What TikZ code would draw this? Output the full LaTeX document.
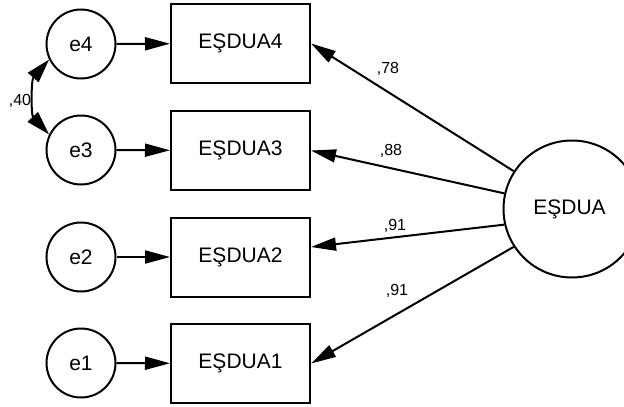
\documentclass[tikz,border=0pt]{standalone}
\usepackage{fontspec}
\setmainfont{Liberation Sans}
\usetikzlibrary{arrows.meta,calc}
\begin{document}
\begin{tikzpicture}[x=1pt,y=-1pt,
  errc/.style={circle,draw,line width=2pt,minimum size=69pt,inner sep=0pt,font=\fontsize{21pt}{25pt}\selectfont},
  obsbox/.style={rectangle,draw,line width=2pt,minimum width=139pt,minimum height=79pt,inner sep=0pt,font=\fontsize{21pt}{25pt}\selectfont},
  latc/.style={circle,draw,line width=2pt,minimum size=137pt,inner sep=0pt,font=\fontsize{21pt}{25pt}\selectfont},
  conn/.style={line width=2pt,-{Triangle[length=25pt,width=13pt]}},
  cov/.style={line width=2pt,{Triangle[length=24pt,width=14pt]}-{Triangle[length=24pt,width=14pt]}},
  lbl/.style={font=\fontsize{16pt}{19pt}\selectfont,inner sep=0pt}]
\useasboundingbox (0,0) rectangle (624,407);
\clip (0,0) rectangle (624,407);
\node[errc] (e4) at (81,44) {e4};
\node[errc] (e3) at (81,150) {e3};
\node[errc] (e2) at (81,257) {e2};
\node[errc] (e1) at (81,363) {e1};
\node[obsbox] (b4) at (240.5,43.5) {EŞDUA4};
\node[obsbox] (b3) at (240.5,150.5) {EŞDUA3};
\node[obsbox] (b2) at (240.5,257) {EŞDUA2};
\node[obsbox] (b1) at (240.5,363.5) {EŞDUA1};
\node[latc] (L) at (572,209) {};
\node[font=\fontsize{21pt}{25pt}\selectfont] at (569.5,209) {EŞDUA};
\coordinate (b2in) at ($(b2.east)+(0,-10)$);
\draw[conn] (e4) -- (b4);
\draw[conn] (e3) -- (b3);
\draw[conn] (e2) -- (b2);
\draw[conn] (e1) -- (b1);
\draw[conn] (L.147) -- (b4.east);
\draw[conn] (L.167) -- (b3.east);
\draw[conn] (L.193) -- (b2in);
\draw[conn] (L.213) -- (b1.east);
\draw[cov] (e4.206) .. controls (31,80) and (31,115) .. (e3.154);
\node[lbl] at (388,69) {,78};
\node[lbl] at (391,151) {,88};
\node[lbl] at (395,226) {,91};
\node[lbl] at (397,291) {,91};
\node[lbl] at (20,101) {,40};
\end{tikzpicture}
\end{document}
